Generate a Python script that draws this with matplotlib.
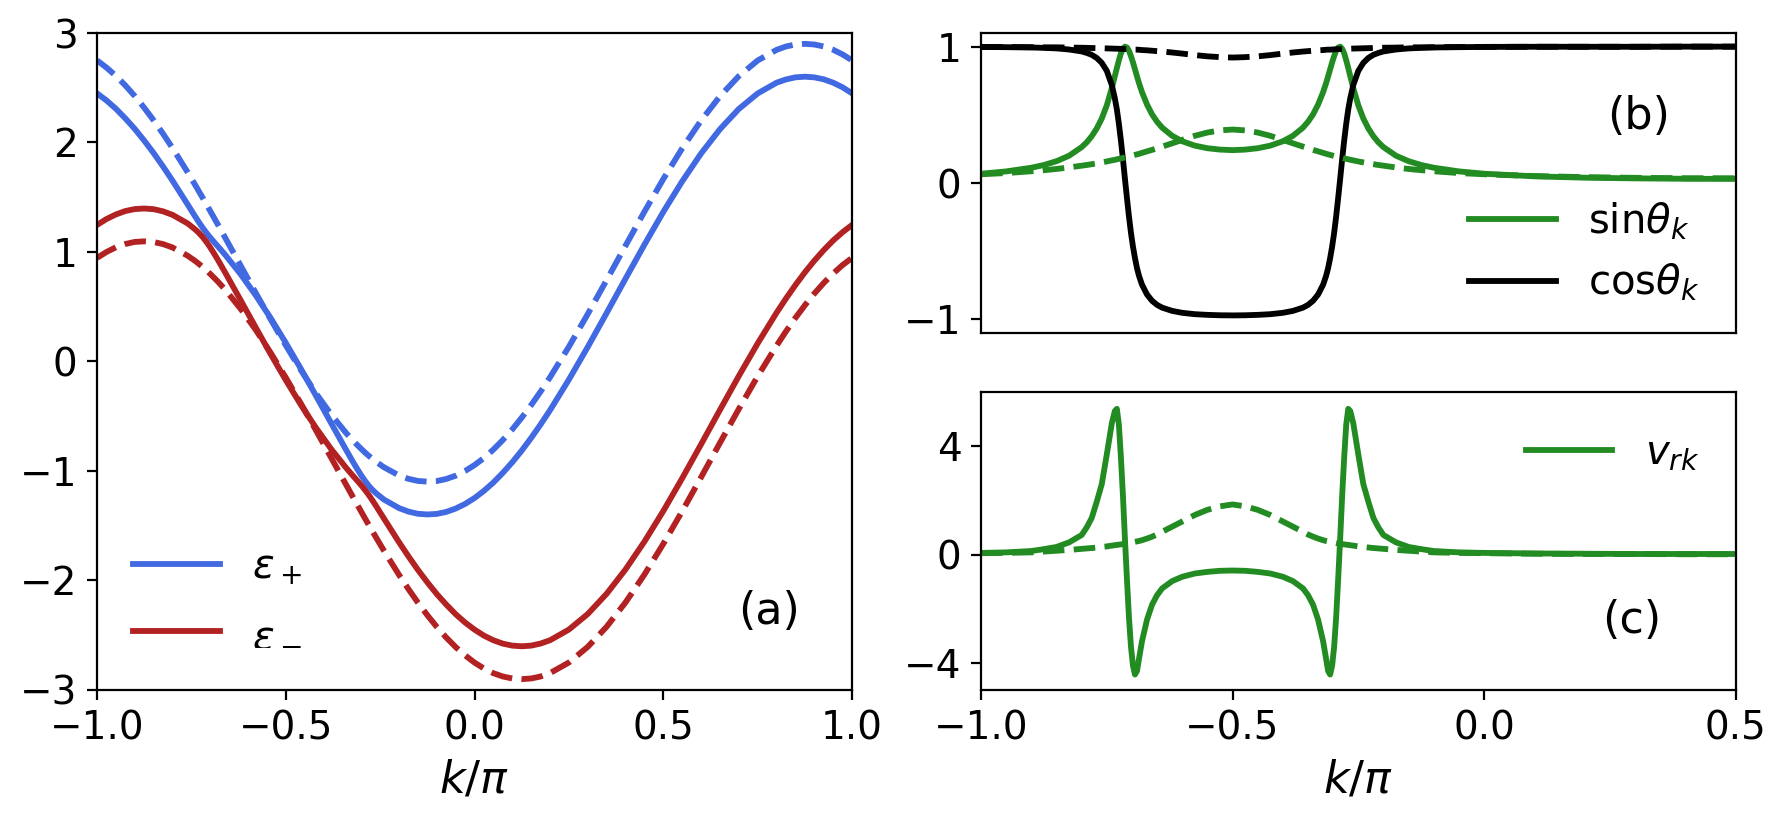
import matplotlib
matplotlib.use("Agg")
import matplotlib.pyplot as plt

# ---------------- panel (a): bands ----------------
k_a = [-1.00, -0.975, -0.95, -0.925, -0.90, -0.875, -0.85, -0.825, -0.80,
       -0.76, -0.74, -0.73, -0.72, -0.71, -0.70, -0.69, -0.68, -0.66,
       -0.62, -0.58, -0.54, -0.50, -0.46, -0.42, -0.38, -0.34,
       -0.32, -0.31, -0.30, -0.29, -0.28, -0.27, -0.26, -0.24,
       -0.20, -0.175, -0.15, -0.125, -0.10, -0.075, -0.05, -0.025, 0.00,
       0.025, 0.05, 0.075, 0.10, 0.125, 0.15, 0.175, 0.20,
       0.25, 0.30, 0.35, 0.40, 0.45, 0.50,
       0.55, 0.60, 0.65, 0.70, 0.75, 0.80,
       0.825, 0.85, 0.875, 0.90, 0.925, 0.95, 0.975, 1.00]

eps_plus = [2.449, 2.384, 2.308, 2.220, 2.124, 2.017, 1.903, 1.780, 1.651,
            1.434, 1.324, 1.271, 1.220, 1.174, 1.131, 1.091, 1.052, 0.972,
            0.799, 0.606, 0.396, 0.170, -0.067, -0.313, -0.562, -0.809,
            -0.929, -0.986, -1.041, -1.091, -1.136, -1.174, -1.206, -1.261,
            -1.339, -1.371, -1.391, -1.397, -1.392, -1.374, -1.343, -1.301, -1.247,
            -1.181, -1.105, -1.017, -0.920, -0.814, -0.698, -0.575, -0.445,
            -0.165, 0.133, 0.443, 0.757, 1.067, 1.366,
            1.645, 1.899, 2.121, 2.306, 2.448, 2.546,
            2.576, 2.595, 2.601, 2.595, 2.577, 2.546, 2.504, 2.449]

eps_minus = [1.247, 1.301, 1.343, 1.374, 1.392, 1.397, 1.391, 1.371, 1.339,
             1.261, 1.206, 1.174, 1.136, 1.091, 1.041, 0.986, 0.929, 0.809,
             0.562, 0.313, 0.067, -0.170, -0.396, -0.606, -0.799, -0.972,
             -1.052, -1.091, -1.131, -1.174, -1.220, -1.271, -1.324, -1.434,
             -1.651, -1.780, -1.903, -2.017, -2.124, -2.220, -2.308, -2.384, -2.449,
             -2.504, -2.546, -2.577, -2.595, -2.601, -2.595, -2.576, -2.546,
             -2.448, -2.306, -2.121, -1.899, -1.645, -1.366,
             -1.067, -0.757, -0.443, -0.133, 0.165, 0.445,
             0.575, 0.698, 0.814, 0.920, 1.017, 1.105, 1.181, 1.247]

eps_plus0 = [2.750, 2.684, 2.608, 2.521, 2.424, 2.317, 2.202, 2.079, 1.949,
             1.728, 1.612, 1.553, 1.494, 1.434, 1.373, 1.312, 1.251, 1.127,
             0.878, 0.629, 0.384, 0.147, -0.079, -0.291, -0.483, -0.654,
             -0.730, -0.765, -0.799, -0.832, -0.862, -0.891, -0.918, -0.966,
             -1.041, -1.072, -1.091, -1.097, -1.092, -1.073, -1.043, -1.000, -0.946,
             -0.881, -0.804, -0.717, -0.620, -0.513, -0.398, -0.275, -0.144,
             0.135, 0.434, 0.744, 1.058, 1.368, 1.666,
             1.946, 2.200, 2.422, 2.606, 2.749, 2.846,
             2.877, 2.895, 2.901, 2.895, 2.877, 2.847, 2.804, 2.750]

eps_minus0 = [0.946, 1.000, 1.043, 1.073, 1.092, 1.097, 1.091, 1.072, 1.041,
              0.966, 0.918, 0.891, 0.862, 0.832, 0.799, 0.765, 0.730, 0.654,
              0.483, 0.291, 0.079, -0.147, -0.384, -0.629, -0.878, -1.127,
              -1.251, -1.312, -1.373, -1.434, -1.494, -1.553, -1.612, -1.728,
              -1.949, -2.079, -2.202, -2.317, -2.424, -2.521, -2.608, -2.684, -2.750,
              -2.804, -2.847, -2.877, -2.895, -2.901, -2.895, -2.877, -2.846,
              -2.749, -2.606, -2.422, -2.200, -1.946, -1.666,
              -1.368, -1.058, -0.744, -0.434, -0.135, 0.144,
              0.275, 0.398, 0.513, 0.620, 0.717, 0.804, 0.881, 0.946]

# ---------------- panels (b), (c) ----------------
k_b = [-1.0, -0.95, -0.9, -0.875, -0.85, -0.825, -0.8, -0.79, -0.78, -0.77, -0.76, -0.75, -0.74,
       -0.734, -0.730, -0.726, -0.722, -0.718, -0.714, -0.710, -0.706, -0.702, -0.698, -0.694,
       -0.690, -0.686, -0.680, -0.67, -0.66, -0.65, -0.64, -0.62, -0.60, -0.575, -0.55, -0.525, -0.5,
       -0.475, -0.45, -0.425, -0.4, -0.38, -0.36, -0.35, -0.34, -0.33, -0.32, -0.314, -0.310,
       -0.306, -0.302, -0.298, -0.294, -0.290, -0.286, -0.282, -0.278, -0.274, -0.270, -0.266,
       -0.26, -0.25, -0.24, -0.23, -0.22, -0.21, -0.2, -0.175, -0.15, -0.125, -0.1, -0.05, 0.0,
       0.1, 0.2, 0.3, 0.4, 0.5]

sin_k = [0.068, 0.085, 0.112, 0.132, 0.160, 0.200, 0.263, 0.298, 0.343, 0.400, 0.473, 0.570, 0.696,
         0.784, 0.843, 0.900, 0.950, 0.984, 1.000, 0.994, 0.970, 0.931, 0.885, 0.834,
         0.782, 0.733, 0.666, 0.575, 0.503, 0.449, 0.406, 0.346, 0.306, 0.274, 0.255, 0.245, 0.241,
         0.245, 0.255, 0.274, 0.306, 0.346, 0.406, 0.449, 0.503, 0.575, 0.666, 0.733, 0.782,
         0.834, 0.885, 0.931, 0.970, 0.994, 1.000, 0.984, 0.950, 0.900, 0.843, 0.784,
         0.696, 0.570, 0.473, 0.400, 0.343, 0.298, 0.263, 0.200, 0.160, 0.132, 0.112, 0.085, 0.068,
         0.049, 0.039, 0.034, 0.031, 0.030]

cos_k = [0.998, 0.996, 0.994, 0.991, 0.987, 0.979, 0.965, 0.954, 0.940, 0.917, 0.881, 0.822, 0.718,
         0.621, 0.539, 0.435, 0.313, 0.178, 0.032, -0.109, -0.244, -0.365, -0.466, -0.551,
         -0.624, -0.681, -0.746, -0.818, -0.864, -0.894, -0.914, -0.938, -0.952, -0.962, -0.967, -0.970, -0.971,
         -0.970, -0.967, -0.962, -0.952, -0.938, -0.914, -0.894, -0.864, -0.818, -0.746, -0.681, -0.624,
         -0.551, -0.466, -0.365, -0.244, -0.109, 0.032, 0.178, 0.313, 0.435, 0.539, 0.621,
         0.718, 0.822, 0.881, 0.917, 0.940, 0.954, 0.965, 0.979, 0.987, 0.991, 0.994, 0.996, 0.998,
         0.999, 0.999, 0.999, 1.000, 1.000]

sin_k0 = [0.064, 0.073, 0.086, 0.094, 0.103, 0.114, 0.127, 0.132, 0.138, 0.144, 0.151, 0.158, 0.166,
          0.170, 0.174, 0.177, 0.180, 0.184, 0.187, 0.191, 0.195, 0.198, 0.202, 0.206,
          0.210, 0.214, 0.221, 0.232, 0.243, 0.255, 0.267, 0.291, 0.316, 0.346, 0.370, 0.386, 0.392,
          0.386, 0.370, 0.346, 0.316, 0.291, 0.267, 0.255, 0.243, 0.232, 0.221, 0.214, 0.210,
          0.206, 0.202, 0.198, 0.195, 0.191, 0.187, 0.184, 0.180, 0.177, 0.174, 0.170,
          0.166, 0.158, 0.151, 0.144, 0.138, 0.132, 0.127, 0.114, 0.103, 0.094, 0.086, 0.073, 0.064,
          0.051, 0.043, 0.038, 0.035, 0.035]

cos_k0 = [0.998, 0.997, 0.996, 0.995, 0.995, 0.993, 0.992, 0.991, 0.990, 0.989, 0.988, 0.987, 0.986,
          0.985, 0.985, 0.984, 0.984, 0.983, 0.982, 0.982, 0.981, 0.980, 0.979, 0.978,
          0.978, 0.977, 0.975, 0.973, 0.970, 0.967, 0.964, 0.957, 0.949, 0.938, 0.929, 0.923, 0.920,
          0.923, 0.929, 0.938, 0.949, 0.957, 0.964, 0.967, 0.970, 0.973, 0.975, 0.977, 0.978,
          0.978, 0.979, 0.980, 0.981, 0.982, 0.982, 0.983, 0.984, 0.984, 0.985, 0.985,
          0.986, 0.987, 0.988, 0.989, 0.990, 0.991, 0.992, 0.993, 0.995, 0.995, 0.996, 0.997, 0.998,
          0.999, 0.999, 0.999, 1.000, 1.000]

v_rk = [0.06, 0.08, 0.13, 0.20, 0.28, 0.45, 0.72, 1.00, 1.35, 1.95, 2.60, 3.70, 4.85,
        5.30, 5.38, 4.80, 3.60, 2.20, 0.60, -0.90, -2.30, -3.40, -4.10, -4.43,
        -4.30, -3.85, -3.20, -2.40, -1.85, -1.50, -1.25, -0.98, -0.82, -0.70, -0.64, -0.60, -0.59,
        -0.60, -0.64, -0.70, -0.82, -0.98, -1.25, -1.50, -1.85, -2.40, -3.20, -3.85, -4.30,
        -4.43, -4.10, -3.40, -2.30, -0.90, 0.60, 2.20, 3.60, 4.80, 5.38, 5.30,
        4.85, 3.70, 2.60, 1.95, 1.35, 1.00, 0.72, 0.45, 0.28, 0.20, 0.13, 0.08, 0.06,
        0.04, 0.03, 0.02, 0.02, 0.02]

v_rk0 = [0.05, 0.06, 0.08, 0.11, 0.14, 0.17, 0.21, 0.225, 0.24, 0.26, 0.28, 0.30, 0.33,
         0.345, 0.355, 0.365, 0.375, 0.385, 0.395, 0.41, 0.425, 0.44, 0.455, 0.47,
         0.485, 0.50, 0.53, 0.59, 0.66, 0.74, 0.84, 1.03, 1.22, 1.46, 1.65, 1.78, 1.85,
         1.78, 1.65, 1.46, 1.22, 1.03, 0.84, 0.74, 0.66, 0.59, 0.53, 0.50, 0.485,
         0.47, 0.455, 0.44, 0.425, 0.41, 0.395, 0.385, 0.375, 0.365, 0.355, 0.345,
         0.33, 0.30, 0.28, 0.26, 0.24, 0.225, 0.21, 0.17, 0.14, 0.11, 0.08, 0.06, 0.05,
         0.03, 0.02, 0.02, 0.01, 0.01]

blue = "royalblue"
red = "firebrick"
green = "forestgreen"
lw = 2.1
leg_fs = 14.5

fig = plt.figure(figsize=(8.935, 4.105), dpi=200)
ax1 = fig.add_axes([0.0543, 0.1596, 0.4225, 0.8002])
ax2 = fig.add_axes([0.5490, 0.5944, 0.4222, 0.3654])
ax3 = fig.add_axes([0.5490, 0.1596, 0.4222, 0.3629])

# (a)
ax1.plot(k_a, eps_plus, color=blue, lw=lw, label=r'$\varepsilon_+$')
ax1.plot(k_a, eps_minus, color=red, lw=lw, label=r'$\varepsilon_-$')
ax1.plot(k_a, eps_plus0, color=blue, lw=lw, ls='--')
ax1.plot(k_a, eps_minus0, color=red, lw=lw, ls='--')
ax1.set_xlim(-1, 1)
ax1.set_ylim(-3, 3)
ax1.set_xticks([-1.0, -0.5, 0.0, 0.5, 1.0])
ax1.set_yticks([-3, -2, -1, 0, 1, 2, 3])
ax1.set_xlabel(r'$k/\pi$', fontsize=16)
ax1.legend(loc='lower left', fontsize=leg_fs, frameon=False, handlelength=2.15, labelspacing=0.65)
ax1.text(0.779, -2.28, '(a)', fontsize=16, ha='center', va='center')

# (b)
ax2.plot(k_b, sin_k, color=green, lw=lw, label=r'sin$\theta_k$')
ax2.plot(k_b, cos_k, color='black', lw=lw, label=r'cos$\theta_k$')
ax2.plot(k_b, sin_k0, color=green, lw=lw, ls='--')
ax2.plot(k_b, cos_k0, color='black', lw=lw, ls='--')
ax2.set_xlim(-1, 0.5)
ax2.set_ylim(-1.1, 1.1)
ax2.set_xticks([])
ax2.set_yticks([-1, 0, 1])
ax2.legend(loc='lower right', bbox_to_anchor=(1.0, -0.023), fontsize=leg_fs, frameon=False,
           handlelength=2.15)
ax2.text(0.308, 0.49, '(b)', fontsize=16, ha='center', va='center')

# (c)
ax3.plot(k_b, v_rk, color=green, lw=lw, label=r'$v_{rk}$')
ax3.plot(k_b, v_rk0, color=green, lw=lw, ls='--')
ax3.set_xlim(-1, 0.5)
ax3.set_ylim(-5, 6)
ax3.set_xticks([-1.0, -0.5, 0.0, 0.5])
ax3.set_yticks([-4, 0, 4])
ax3.set_xlabel(r'$k/\pi$', fontsize=16)
ax3.legend(loc='upper right', bbox_to_anchor=(1.0, 0.983), fontsize=leg_fs, frameon=False,
           handlelength=2.15)
ax3.text(0.294, -2.44, '(c)', fontsize=16, ha='center', va='center')

for ax in (ax1, ax2, ax3):
    ax.tick_params(labelsize=14)

fig.savefig("out.png", dpi=200)
